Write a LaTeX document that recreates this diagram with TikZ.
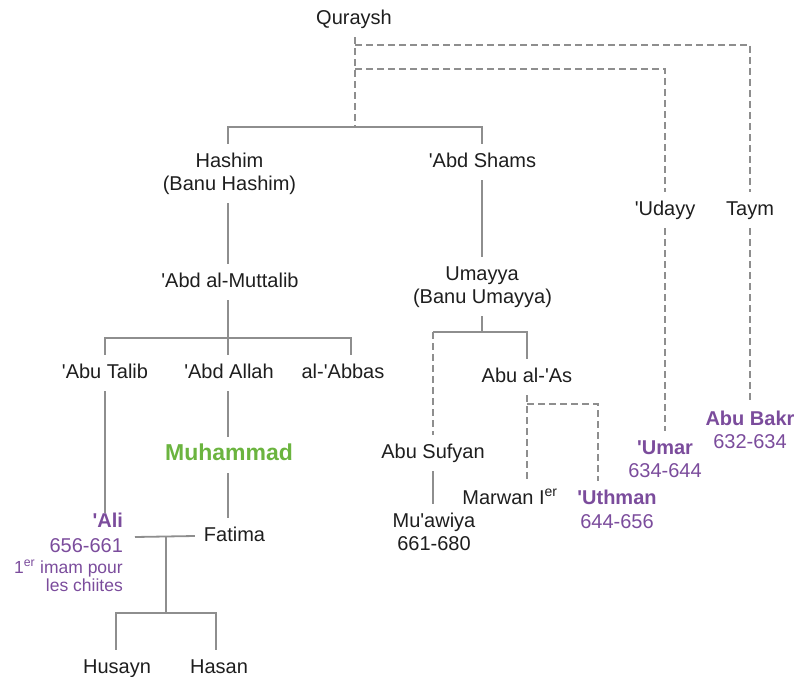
\documentclass[tikz,border=0pt]{standalone}
\usepackage{fontspec}
\setmainfont{Liberation Sans}
\usetikzlibrary{calc}
\definecolor{txt}{HTML}{1E1E1E}
\definecolor{lin}{HTML}{8E8E8E}
\definecolor{purp}{HTML}{7B4C9C}
\definecolor{grn}{HTML}{6BB43F}
\newcommand{\ap}{\textquotesingle}
\tikzset{
  nm/.style={inner sep=0pt, outer sep=9pt, text height=14.5pt, text depth=4pt,
    font=\fontsize{20}{23}\selectfont, text=txt},
  calif/.style={nm, text=purp, font=\fontsize{20}{23}\selectfont\bfseries},
  yrs/.style={nm, text=purp},
  prophet/.style={nm, text=grn, font=\fontsize{23}{26}\selectfont\bfseries},
  sline/.style={draw=lin, line width=1.8pt},
  dline/.style={draw=lin, line width=1.8pt, dash pattern=on 7pt off 4pt}
}
\begin{document}
\begin{tikzpicture}[x=1pt,y=-1pt]
\useasboundingbox (0,0) rectangle (798,677);
% nodes
\node[nm] (quraysh) at (354,19) {Quraysh};
\node[nm] (hashim) at (229.5,162) {Hashim};
\node[nm] (banuhashim) at (229.5,185) {(Banu Hashim)};
\node[nm] (abdshams) at (482.5,162) {\ap Abd Shams};
\node[nm] (udayy) at (665,210) {\ap Udayy};
\node[nm] (taym) at (750,210) {Taym};
\node[nm] (muttalib) at (230,282) {\ap Abd al-Muttalib};
\node[nm] (umayya) at (482,275) {Umayya};
\node[nm] (banuumayya) at (482.5,298) {(Banu Umayya)};
\node[nm] (abutalib) at (105,373) {\ap Abu Talib};
\node[nm] (abdallah) at (229,373) {\ap Abd Allah};
\node[nm] (abbas) at (343,373) {al-\ap Abbas};
\node[nm] (abuas) at (527,377) {Abu al-\ap As};
\node[calif] (abubakr) at (750,420) {Abu Bakr};
\node[yrs] (abubakry) at (750,443) {632-634};
\node[calif] (umar) at (665,449) {\ap Umar};
\node[yrs] (umary) at (665,472) {634-644};
\node[prophet] (muhammad) at (229,455) {Muhammad};
\node[nm] (abusufyan) at (433,453) {Abu Sufyan};
\node[nm] (marwan) at (510,499) {Marwan I\textsuperscript{er}};
\node[calif] (uthman) at (617,499) {\ap Uthman};
\node[yrs] (uthmany) at (617,523) {644-656};
\node[nm] (muawiya) at (434,522) {Mu\ap awiya};
\node[nm] (muawiyay) at (434,545) {661-680};
\node[calif, anchor=east, outer sep=0pt] (ali) at (123,522) {\ap Ali};
\node[yrs, anchor=east, outer sep=0pt] (aliy) at (123,547) {656-661};
\node[anchor=north east, inner sep=0pt, align=right, text=purp,
  font=\fontsize{17.5}{18}\selectfont] (alinote) at (123,560) {1\textsuperscript{er} imam pour\\les chiites};
\node[nm] (fatima) at (234.5,536) {Fatima};
\node[nm] (husayn) at (117,668) {Husayn};
\node[nm] (hasan) at (219,668) {Hasan};
% junctions
\coordinate (jq) at (355,127);
\coordinate (jq1) at (355,45);
\coordinate (jq2) at (355,69);
\coordinate (jm) at (228,338);
\coordinate (jabbas) at (351,338);
\coordinate (ju) at (482,332);
\coordinate (jsuf) at (433,332);
\coordinate (jas) at (527,404);
\coordinate (jmar) at (598,404);
\coordinate (mleft) at (135,537);
\coordinate (mc) at (166,537);
\coordinate (jc) at (166,613);
% Quraysh
\draw[dline] (quraysh.south -| jq) -- (jq);
\draw[dline] (jq1) -| (taym.north);
\draw[dline] (jq2) -| (udayy.north);
\draw[dline] (udayy.south) -- (umar.north);
\draw[dline] (taym.south) -- (abubakr.north);
\draw[sline] (hashim.north -| jm) |- (jq) -| (abdshams.north -| ju);
% Hashim line
\draw[sline] (banuhashim.south -| jm) -- (muttalib.north -| jm);
\draw[sline] (muttalib.south -| jm) -- (abdallah.north -| jm);
\draw[sline] (abutalib.north) |- (jm) -| (abbas.north -| jabbas);
\draw[sline] (abutalib.south) -- (ali.north -| abutalib.south);
\draw[sline] (abdallah.south -| jm) -- (muhammad.north -| jm);
\draw[sline] (muhammad.south -| jm) -- (fatima.north -| jm);
\draw[sline] (mleft) -- (fatima.west);
\draw[sline] (mc) -- (jc);
\draw[sline] (husayn.north -| 116,0) |- (jc) -| (hasan.north -| 216,0);
% Umayya line
\draw[sline] (abdshams.south -| ju) -- (umayya.north -| ju);
\draw[sline] (banuumayya.south -| ju) -- (ju);
\draw[sline] (ju) -- (jsuf);
\draw[sline] (ju) -| (abuas.north);
\draw[dline] (jsuf) -- (abusufyan.north);
\draw[sline] (abusufyan.south) -- (muawiya.north -| abusufyan.south);
\draw[dline] (abuas.south) -- (marwan.north -| abuas.south);
\draw[dline] (jas) -| (uthman.north -| jmar);
\end{tikzpicture}
\end{document}
